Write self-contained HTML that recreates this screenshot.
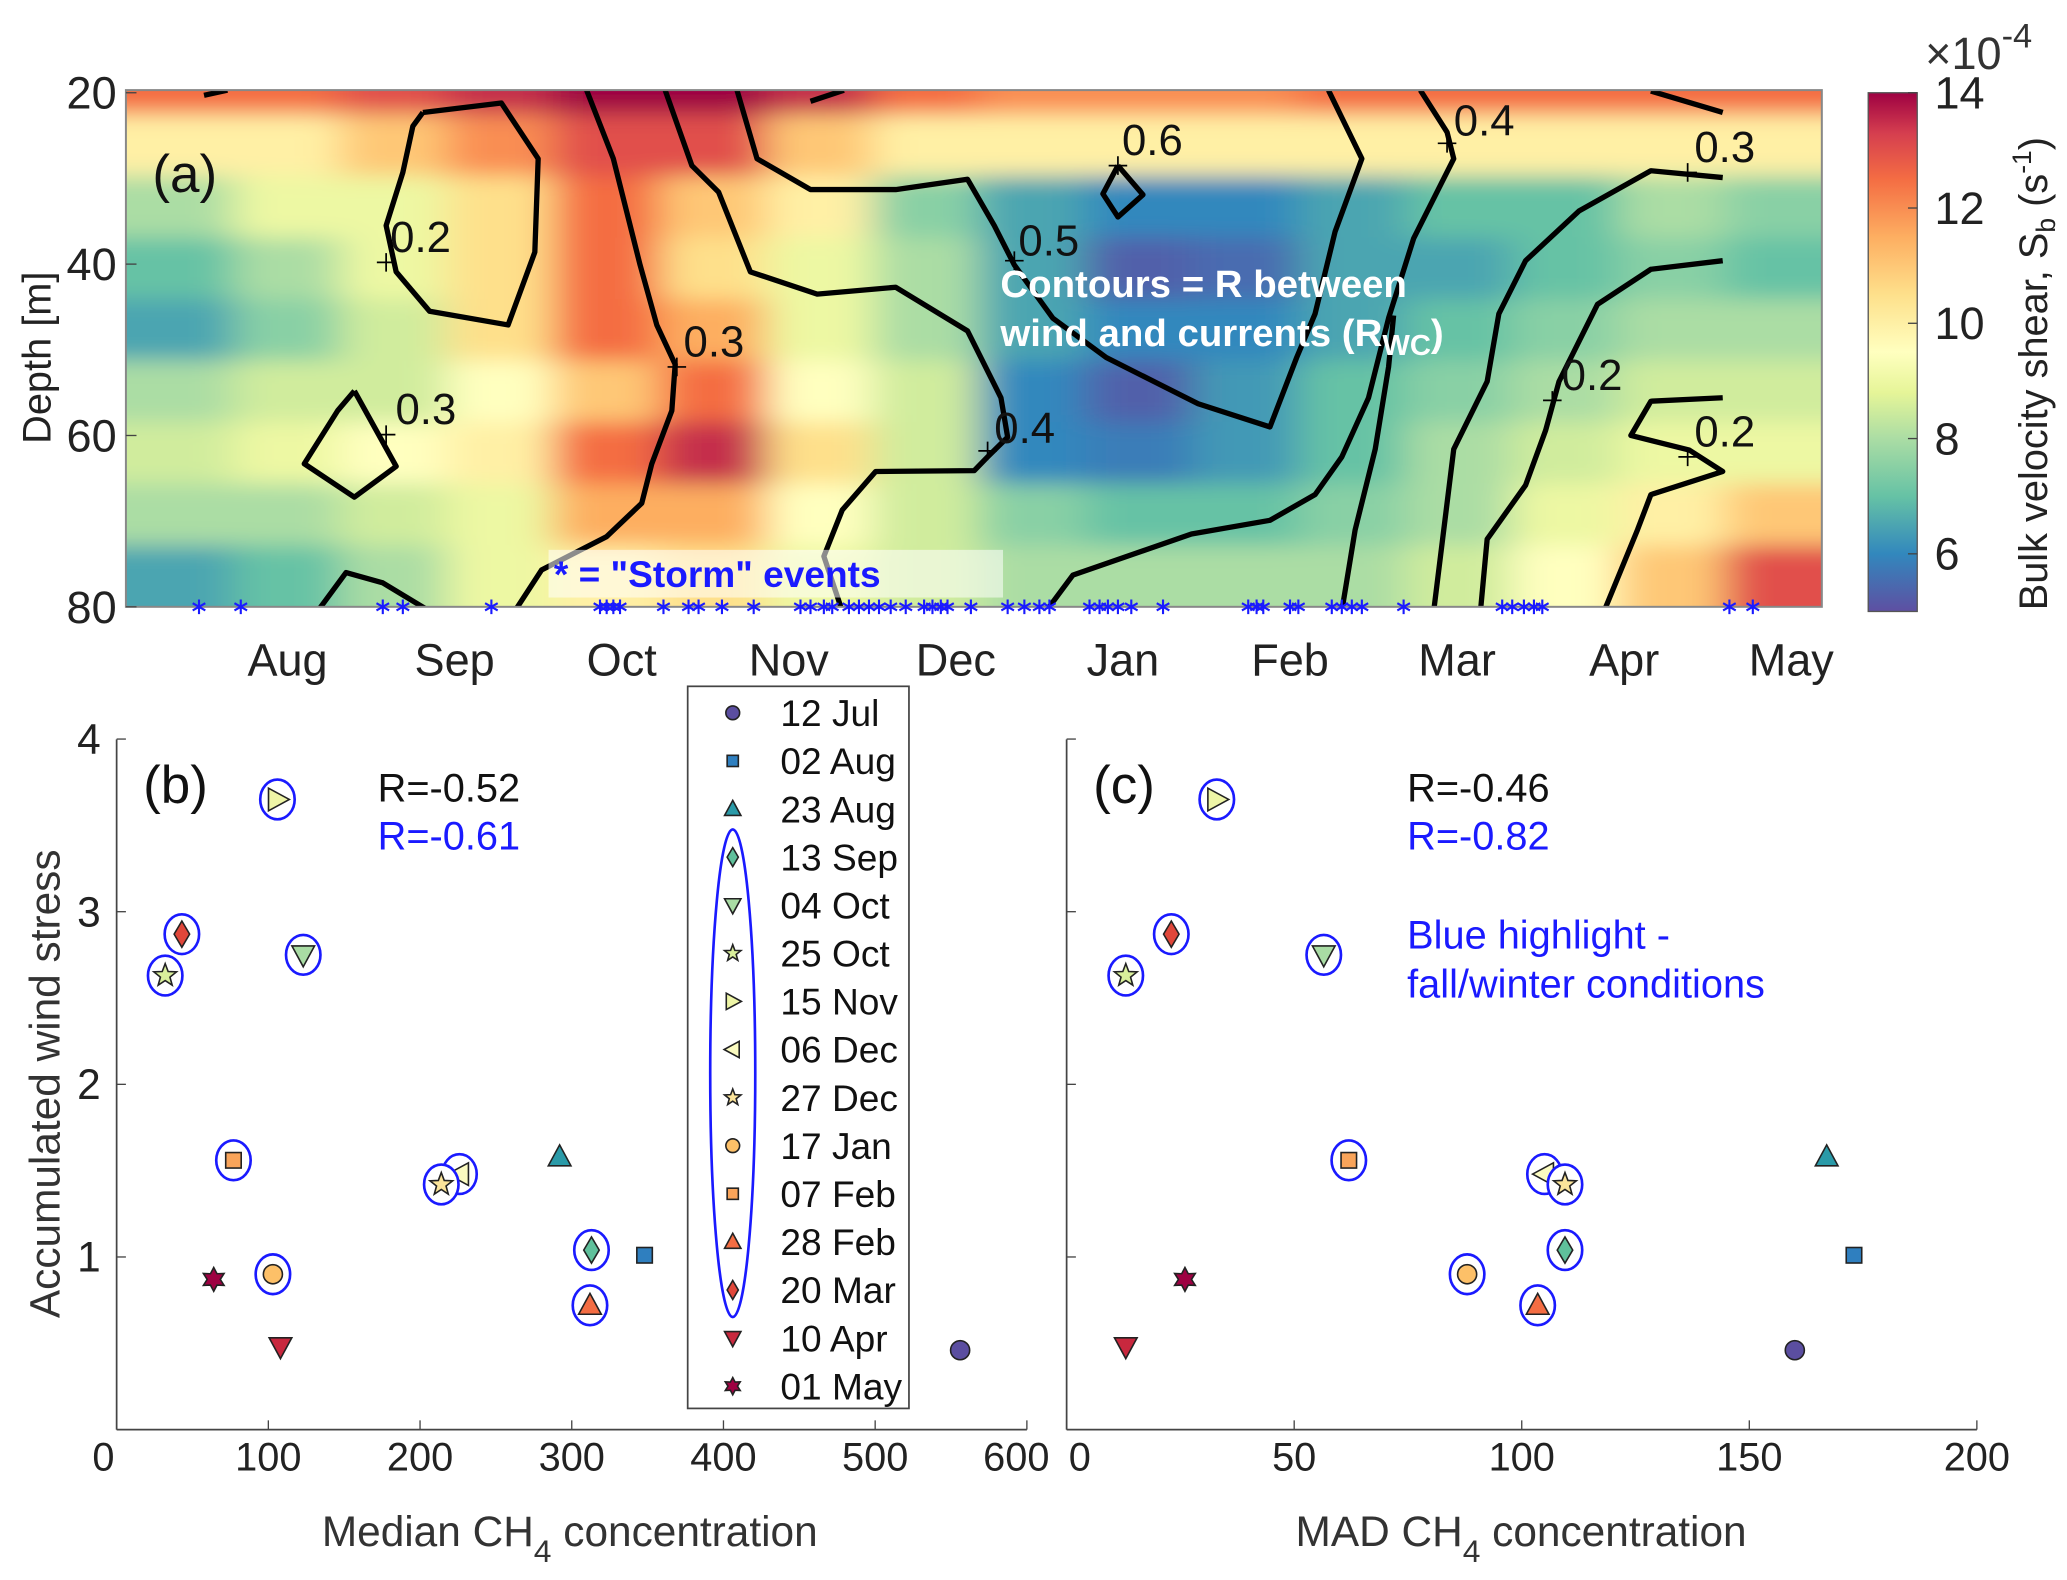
<!DOCTYPE html>
<html><head><meta charset="utf-8"><style>
html,body{margin:0;padding:0;background:#fff}
svg{display:block}
text{font-family:"Liberation Sans","DejaVu Sans",sans-serif}
</style></head><body>
<svg id="fig" xmlns="http://www.w3.org/2000/svg" width="2067" height="1580" viewBox="0 0 1560 1192.5">
<defs>
<clipPath id="clipA"><rect x="95" y="68" width="1280" height="390"/></clipPath>
<filter id="blurA" x="-5%" y="-5%" width="110%" height="110%"><feGaussianBlur stdDeviation="16 8"/></filter>
<linearGradient id="cbGrad" x1="0" y1="1" x2="0" y2="0"></linearGradient>
</defs>
<rect width="1560" height="1192.5" fill="#fff"/>
<g id="panelA">
 <g clip-path="url(#clipA)"><g id="heat" filter="url(#blurA)"></g><g id="contours"></g></g>
 <rect x="95" y="68" width="1280" height="390" fill="none" stroke="#888" stroke-width="1.5"/>
 <g id="storms"></g>
 <g id="axA"></g>
</g>
<g id="panelB"></g>
<g id="panelC"></g>
<g id="legend"></g>
</svg>
<script>
// ---------- Panel (a) data ----------
const monthLabels = ["Aug","Sep","Oct","Nov","Dec","Jan","Feb","Mar","Apr","May"];
const depthTicks = [20,40,60,80];
const cbTicks = [6,8,10,12,14];
const heatTop = [12.5,12.5,13,13.5,14,14,13.5,12.5,12,12,12,12.5,12.5,12.5,12.5,12.5];
const heatCols = [
 [10,8,7,6.5,8,8.5,8,6.5],
 [10,9,8,7.5,8.5,9,8,7],
 [11,9,9,8.5,8.5,9.5,8.5,8],
 [12,10.5,10.5,10.5,9.5,10,9,9],
 [13,12.5,12.5,12.5,11,12.5,11.5,10],
 [13,11,10.5,11.5,12.5,13.5,11.5,10.5],
 [11,10,9,9,9.5,10.5,9.5,9],
 [10,7.5,8,8,8.5,8.5,8.5,8.5],
 [10,6.5,6.5,6.5,6,6,7.5,8],
 [10,6,5.3,6,5.3,5.8,7,8],
 [10,6,5.5,6,6.3,6.3,7,8],
 [10,6.5,6.5,6.5,7,7,7.5,8],
 [10,7,6.5,7,7.5,8,8,8.5],
 [10,7,7,7.5,8,8.5,9,9.5],
 [10,8,7.5,8,8.5,9,10,11],
 [10,7.5,7,8,8.5,9,11,13]
];
const stormTimes = [0.47,0.72,1.57,1.69,2.22,2.87,2.91,2.95,2.99,3.25,3.40,3.46,3.60,3.79,4.07,4.13,4.21,4.26,4.36,4.42,4.48,4.54,4.61,4.70,4.81,4.86,4.91,4.95,5.09,5.31,5.41,5.50,5.56,5.80,5.86,5.91,5.97,6.05,6.24,6.75,6.80,6.84,7.00,7.05,7.25,7.31,7.37,7.43,7.68,8.27,8.33,8.40,8.46,8.51,9.63,9.77];
const contourLines = [
 {pts:[[1.81,22.3],[2.28,21.2],[2.50,27.7],[2.48,38.6],[2.32,47.1],[1.85,45.5],[1.65,40.9],[1.59,35.5],[1.69,29.3],[1.75,23.9],[1.81,22.3]], plus:[1.59,39.8]},
 {pts:[[1.40,54.8],[1.65,63.6],[1.40,67.2],[1.10,63.3],[1.30,57.1],[1.40,54.8]], plus:[1.59,59.9]},
 {pts:[[2.79,19.7],[2.95,27.7],[3.11,40.1],[3.21,47.1],[3.32,51.7],[3.30,57.1],[3.18,63.3],[3.12,67.9],[2.91,71.8],[2.52,75.7],[2.36,80.5]], plus:[3.33,52]},
 {pts:[[3.26,19.7],[3.42,28.5],[3.58,31.6],[3.77,40.9],[4.17,43.5],[4.64,42.7],[5.07,47.8],[5.27,55.6],[5.31,60.2],[5.19,62.5],[5.11,64.1],[4.52,64.2],[4.32,68.7],[4.21,74.1],[4.32,80.5]], plus:[5.19,61.8]},
 {pts:[[3.69,19.7],[3.81,27.7],[4.13,31.3],[4.64,31.3],[5.07,30.1],[5.23,35.5],[5.35,40.1],[5.58,46.3],[5.90,50.9],[6.45,56.3],[6.88,59.0],[7.04,50.9],[7.15,45.8],[7.27,36.2],[7.43,27.7],[7.23,19.7]], plus:[5.35,39.6]},
 {pts:[[5.54,80.5],[5.70,76.3],[6.41,71.5],[6.88,69.9],[7.15,66.9],[7.31,62.5],[7.47,55.6],[7.59,46.3],[7.74,37],[7.98,27.7],[7.94,24.6],[7.78,19.7]], plus:[7.94,25.9]},
 {pts:[[7.31,80.5],[7.39,71],[7.51,61.6],[7.59,52],[7.62,46]], plus:null},
 {pts:[[7.86,80.5],[7.98,61.6],[8.18,53.7],[8.25,45.8],[8.41,39.6],[8.73,33.8],[9.16,29.1],[9.59,29.9]], plus:[9.38,29.3]},
 {pts:[[8.14,80.5],[8.18,72.1],[8.41,65.8],[8.53,59.4],[8.61,53.7],[8.84,44.7],[9.16,40.6],[9.59,39.6]], plus:[8.57,55.9]},
 {pts:[[9.59,55.6],[9.16,56.0],[9.04,60],[9.39,61.7],[9.59,64.2],[9.16,66.9],[9.08,71],[8.88,80.5]], plus:[9.38,62.5]},
 {pts:[[5.97,28.5],[6.12,31.9],[5.97,34.5],[5.88,31.8],[5.97,28.5]], plus:[5.97,28.5]},
 {pts:[[1.18,80.5],[1.35,76],[1.57,77.2],[1.85,80.5]], plus:null},
 {pts:[[9.16,19.8],[9.59,22.3]], plus:null},
 {pts:[[0.5,20.3],[0.64,19.7]], plus:null},
 {pts:[[4.13,21],[4.33,19.7]], plus:null}
];
const contourLabels = ["0.2","0.3","0.3","0.4","0.5","0.4","","0.3","0.2","0.2","0.6","","","",""];
const labelOffsets = [[26,-20],[30,-20],[28,-20],[28,-18],[26,-16],[28,-18],[0,0],[28,-20],[30,-20],[28,-20],[26,-20],[0,0],[0,0],[0,0],[0,0]];

// ---------- Scatter data ----------
const dates = ["12 Jul","02 Aug","23 Aug","13 Sep","04 Oct","25 Oct","15 Nov","06 Dec","27 Dec","17 Jan","07 Feb","28 Feb","20 Mar","10 Apr","01 May"];
const shapes = ["circle","square","tri","diamond","tridown","star","triright","trileft","star","circle","square","tri","diamond","tridown","hex"];
const colors = ["#5b4ea0","#2f7fbf","#2a9aa8","#5fc09b","#a9dca4","#d9ef9b","#eef5a6","#fbfbc0","#fbe49a","#fdc068","#f9a45a","#f46d43","#e0473a","#c8283e","#9e0142"];
const highlighted = [0,0,0,1,1,1,1,1,1,1,1,1,1,0,0];
const windStress = [0.46,1.01,1.58,1.04,2.75,2.63,3.65,1.48,1.42,0.90,1.56,0.72,2.87,0.48,0.87];
const medianCH4 = [556,348,292,313,123,32,106,226,214,103,77,312,43,108,64];
const madCH4 = [160,173,167,109.5,56.5,13,33,105,109.5,88,62,103.5,23,13,26];
const bTicks = [0,100,200,300,400,500,600];
const cTicks = [0,50,100,150,200];
const yTicks = [1,2,3,4];

const NS="http://www.w3.org/2000/svg";
function el(tag,attrs,parent,txt){const e=document.createElementNS(NS,tag);for(const k in attrs)e.setAttribute(k,attrs[k]);if(txt!==undefined)e.textContent=txt;parent.appendChild(e);return e;}

// scales
const tx = t => 217 + (t-1)*126.1;
const dy = d => 70 + (d-20)*6.467;
const stops=[[5,"#5e4fa2"],[6,"#3288bd"],[7,"#66c2a5"],[8,"#abdda4"],[8.8,"#e6f598"],[9.5,"#ffffbf"],[10.5,"#fee08b"],[11.5,"#fdae61"],[12.5,"#f46d43"],[13.3,"#d53e4f"],[14,"#9e0142"]];
function hex2rgb(h){return [1,3,5].map(i=>parseInt(h.substr(i,2),16));}
function cmap(v){v=Math.max(5,Math.min(14,v));for(let i=0;i<stops.length-1;i++){if(v<=stops[i+1][0]){const f=(v-stops[i][0])/(stops[i+1][0]-stops[i][0]);const a=hex2rgb(stops[i][1]),b=hex2rgb(stops[i+1][1]);return "rgb("+a.map((x,j)=>Math.round(x+(b[j]-x)*f)).join(",")+")";}}return stops[stops.length-1][1];}

// heatmap
const heat=document.getElementById("heat");
const colW=10.2/heatCols.length;
heatCols.forEach((col,i)=>{
  const x0=tx(i*colW+0.04)-(i==0?40:0), x1=tx((i+1)*colW+0.04)+(i==heatCols.length-1?40:0);
  let r=el("rect",{x:x0,y:dy(17),width:x1-x0+1,height:dy(22.5)-dy(17),fill:cmap(heatTop[i])},heat);
  
  
  const rh=(80-22.5)/col.length;
  col.forEach((v,j)=>{
    const d0=22.5+j*rh, d1=d0+rh+(j==col.length-1?6:0);
    const c=el("rect",{x:x0,y:dy(d0),width:x1-x0+1,height:dy(d1)-dy(d0)+1,fill:cmap(v)},heat);
    
    
  });
});
// contours
const cg=document.getElementById("contours");
contourLines.forEach((c,i)=>{
  const p=el("polyline",{points:c.pts.map(q=>tx(q[0])+","+dy(q[1])).join(" "),fill:"none",stroke:"#000","stroke-width":4,"stroke-linejoin":"round"},cg);
  
  
  if(c.plus){const X=tx(c.plus[0]),Y=dy(c.plus[1]);
    el("path",{d:`M${X-7},${Y}h14M${X},${Y-7}v14`,stroke:"#000","stroke-width":1.3},cg);
    if(contourLabels[i]){const t=el("text",{x:X+labelOffsets[i][0],y:Y+labelOffsets[i][1]+12,"font-size":33,"text-anchor":"middle",fill:"#111"},cg,contourLabels[i]);
      
      }
  }
});
// storm asterisks
const sg=document.getElementById("storms");
stormTimes.forEach(t=>{const X=tx(t),Y=458,r=5.5;
  let d="";for(let k=0;k<3;k++){const a=k*Math.PI/3+Math.PI/2;d+=`M${X-r*Math.cos(a)},${Y-r*Math.sin(a)}L${X+r*Math.cos(a)},${Y+r*Math.sin(a)}`;}
  const s=el("path",{d:d,stroke:"#1a1aff","stroke-width":1.6},sg);
  
  });

// axes A
const axA=document.getElementById("axA");
monthLabels.forEach((m,i)=>{const t=el("text",{x:tx(i+1),y:510,"font-size":34,"text-anchor":"middle",fill:"#222"},axA,m);
  
  });
depthTicks.forEach(d=>{const t=el("text",{x:88,y:dy(d)+12,"font-size":34,"text-anchor":"end",fill:"#222"},axA,String(d));
  
  
  el("line",{x1:95,x2:103,y1:dy(d),y2:dy(d),stroke:"#444"},axA);});
let t0=el("text",{x:0,y:0,"font-size":30,"text-anchor":"middle",fill:"#222",transform:"translate(38,270) rotate(-90)"},axA,"Depth [m]");

t0=el("text",{x:115,y:145,"font-size":40,fill:"#111"},axA,"(a)");

t0=el("text",{x:755,y:224,"font-size":29,"font-weight":"bold",fill:"#fff"},axA,"Contours = R between");

t0=el("text",{x:755,y:261,"font-size":29,"font-weight":"bold",fill:"#fff"},axA);

t0.innerHTML='wind and currents (R<tspan font-size="22" dy="7">WC</tspan><tspan dy="-7">)</tspan>';
let sb=el("rect",{x:414,y:415,width:343,height:36,fill:"#fff","fill-opacity":0.55},axA);

t0=el("text",{x:418,y:443,"font-size":28,"font-weight":"bold",fill:"#1a1aff","xml:space":"preserve"},axA,'* =  "Storm" events');

// colorbar
const cbv = v => 70+(14-v)*43.5;
const grad=document.getElementById("cbGrad");
stops.forEach(s=>el("stop",{offset:((s[0]-5)/9*100)+"%","stop-color":s[1]},grad));
let cb=el("rect",{x:1410,y:cbv(14),width:37,height:cbv(5)-cbv(14),fill:"url(#cbGrad)",stroke:"#555","stroke-width":1},axA);

cbTicks.forEach(v=>{const t=el("text",{x:1460,y:cbv(v)+12,"font-size":34,fill:"#222"},axA,String(v));
  
  el("line",{x1:1440,x2:1447,y1:cbv(v),y2:cbv(v),stroke:"#444"},axA);});
t0=el("text",{x:1453,y:52,"font-size":34,fill:"#333"},axA);

t0.innerHTML='×10<tspan font-size="26" dy="-16">-4</tspan>';
t0=el("text",{x:0,y:0,"font-size":30,fill:"#222","text-anchor":"middle",transform:"translate(1545,282) rotate(-90)"},axA);

t0.innerHTML='Bulk velocity shear, S<tspan font-size="20" dy="6">b</tspan><tspan dy="-6"> (s</tspan><tspan font-size="20" dy="-12">-1</tspan><tspan dy="12">)</tspan>';

// marker
function marker(g,shape,cx,cy,r,fill){
  let e;const sw=1.2;
  if(shape=="circle")e=el("circle",{cx,cy,r:r*0.8},g);
  else if(shape=="square")e=el("rect",{x:cx-r*0.65,y:cy-r*0.65,width:r*1.3,height:r*1.3},g);
  else{let pts=[];
    if(shape=="tri")pts=[[0,-1],[0.95,0.75],[-0.95,0.75]];
    else if(shape=="tridown")pts=[[0,1],[0.95,-0.75],[-0.95,-0.75]];
    else if(shape=="triright")pts=[[1,0],[-0.75,0.95],[-0.75,-0.95]];
    else if(shape=="trileft")pts=[[-1,0],[0.75,0.95],[0.75,-0.95]];
    else if(shape=="diamond")pts=[[0,-1.1],[0.65,0],[0,1.1],[-0.65,0]];
    else if(shape=="star"){for(let k=0;k<10;k++){const a=-Math.PI/2+k*Math.PI/5,rr=k%2?0.42:1;pts.push([rr*Math.cos(a),rr*Math.sin(a)]);}}
    else if(shape=="hex"){for(let k=0;k<12;k++){const a=-Math.PI/2+k*Math.PI/6,rr=k%2?0.55:1;pts.push([rr*Math.cos(a),rr*Math.sin(a)]);}}
    e=el("polygon",{points:pts.map(p=>(cx+p[0]*r)+","+(cy+p[1]*r)).join(" ")},g);}
  e.setAttribute("fill",fill);e.setAttribute("stroke","#222");e.setAttribute("stroke-width",sw);
  return e;
}

function scatter(gid,xs,x0,x1,xmax,ticks,letter,rBlack,rBlue,xlabel,xlabelX,showY){
  const g=document.getElementById(gid);
  const sx=v=>x0+v*(x1-x0)/xmax, sy=s=>1079-s*130.3;
  el("line",{x1:x0,x2:x0,y1:558,y2:1079,stroke:"#444","stroke-width":1.3},g);
  el("line",{x1:x0,x2:x1,y1:1079,y2:1079,stroke:"#444","stroke-width":1.3},g);
  ticks.forEach(v=>{el("line",{x1:sx(v),x2:sx(v),y1:1079,y2:1072,stroke:"#444"},g);
    const t=el("text",{x:sx(v)-(v==xmax&&gid=="panelB"?8:0)+(v==0&&gid=="panelC"?10:0)-(v==0&&gid=="panelB"?10:0),y:1110,"font-size":30,"text-anchor":"middle",fill:"#222"},g,String(v));
    });
  yTicks.forEach(v=>{el("line",{x1:x0,x2:x0+7,y1:sy(v),y2:sy(v),stroke:"#444"},g);
    if(showY){const t=el("text",{x:x0-12,y:sy(v)+11,"font-size":32,"text-anchor":"end",fill:"#222"},g,String(v));
      }});
  let t=el("text",{x:x0+20,y:606,"font-size":40,fill:"#111"},g,letter);
  
  t=el("text",{x:x0+(gid=="panelB"?197:257),y:605,"font-size":30,fill:"#111"},g,rBlack);
  
  t=el("text",{x:x0+(gid=="panelB"?197:257),y:641,"font-size":30,fill:"#1a1aff"},g,rBlue);
  
  t=el("text",{x:xlabelX,y:1167,"font-size":32,"text-anchor":"middle",fill:"#333"},g);
  
  t.innerHTML=xlabel+' CH<tspan font-size="24" dy="12">4</tspan><tspan dy="-12"> concentration</tspan>';
  xs.forEach((v,i)=>{const X=sx(v),Y=sy(windStress[i]);
    if(highlighted[i]){const h=el("ellipse",{cx:X,cy:Y,rx:13,ry:15,fill:"#fff",stroke:"#1a1aff","stroke-width":2},g);
      }
    const m=marker(g,shapes[i],X,Y,9,colors[i]);
    
    });
}
scatter("panelB",medianCH4,88,775,600,bTicks,"(b)","R=-0.52","R=-0.61","Median",430,true);
scatter("panelC",madCH4,805,1492,200,cTicks,"(c)","R=-0.46","R=-0.82","MAD",1148,false);
let yl=el("text",{x:0,y:0,"font-size":32,"text-anchor":"middle",fill:"#333",transform:"translate(45,818) rotate(-90)"},document.getElementById("panelB"),"Accumulated wind stress");

const pc=document.getElementById("panelC");
yl=el("text",{x:1062,y:716,"font-size":30,fill:"#1a1aff"},pc,"Blue highlight -");

yl=el("text",{x:1062,y:753,"font-size":30,fill:"#1a1aff"},pc,"fall/winter conditions");


// legend
const lg=document.getElementById("legend");
el("rect",{x:519,y:518,width:167,height:545,fill:"#fff",stroke:"#444","stroke-width":1.3},lg);
el("ellipse",{cx:553,cy:810,rx:17,ry:184,fill:"none",stroke:"#1a1aff","stroke-width":2},lg);
dates.forEach((d,i)=>{const Y=538+i*36.3;
  const m=marker(lg,shapes[i],553,Y,6.5,colors[i]);
  
  const t=el("text",{x:589,y:Y+10,"font-size":28,fill:"#111"},lg,d);
  });
</script>
</body></html>
